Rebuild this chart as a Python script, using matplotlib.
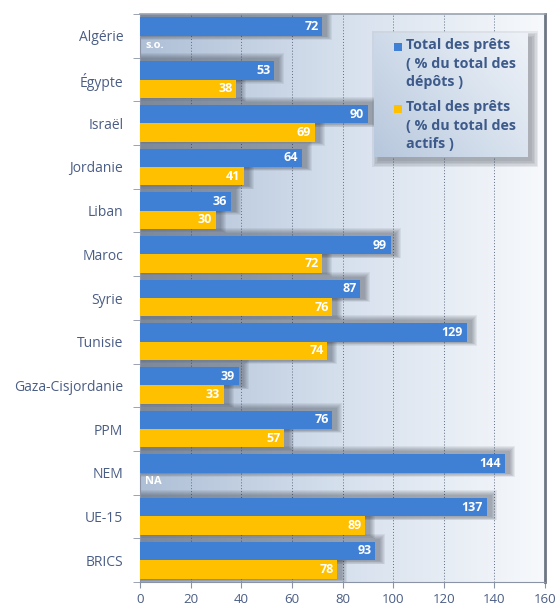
import numpy as np
import matplotlib.pyplot as plt
from matplotlib.patches import Rectangle
from matplotlib.colors import LinearSegmentedColormap

pays = ["Algérie", "Égypte", "Israël", "Jordanie", "Liban", "Maroc", "Syrie",
        "Tunisie", "Gaza-Cisjordanie", "PPM", "NEM", "UE-15", "BRICS"]
prets_depots = [72, 53, 90, 64, 36, 99, 87, 129, 39, 76, 144, 137, 93]
prets_actifs = [None, 38, 69, 41, 30, 72, 76, 74, 33, 57, None, 89, 78]
manquant = {"Algérie": "s.o.", "NEM": "NA"}
xticks = [0, 20, 40, 60, 80, 100, 120, 140, 160]
series = ["Total des prêts\n( % du total des\ndépôts )",
          "Total des prêts\n( % du total des\nactifs )"]

bleu = "#3f7fd4"
jaune = "#ffc000"
txt = "#4a5d85"
W, H = 558, 605

plt.rcParams["font.family"] = ["Open Sans", "DejaVu Sans"]

fig = plt.figure(figsize=(W / 100, H / 100), dpi=100)
ax = fig.add_axes([140 / W, 1 - 582 / H, 405 / W, 568 / H])

# fond dégradé bleu-gris -> blanc
grad = np.linspace(0, 1, 256)[None, :]
cmap = LinearSegmentedColormap.from_list("fond", ["#aebfd6", "#d6e0ed", "#f7f9fc"])
ax.imshow(grad, extent=[0, 160, 12.5, -0.5], aspect="auto", cmap=cmap, zorder=0)

h = 0.42
y = np.arange(len(pays))
px_x = 160 / 405
px_y = 13 / 568

def ombre(yc, w):
    # ombre floue : couches superposées de plus en plus larges
    for k in range(6):
        e = k * 1.0
        x1 = w + (5 + e) * px_x
        y0 = yc - h / 2 - (3 + e) * px_y
        y1 = yc + h / 2 + (1 + e * 0.6) * px_y
        ax.add_patch(Rectangle((0, y0), x1, y1 - y0,
                               facecolor="#2f3540", alpha=0.075, lw=0, zorder=1))

for i, p in enumerate(pays):
    ombre(y[i] - h / 2, prets_depots[i])
    if prets_actifs[i] is not None:
        ombre(y[i] + h / 2, prets_actifs[i])

ax.barh(y - h / 2, prets_depots, height=h, color=bleu, zorder=3)
ya = [y[i] + h / 2 for i in range(len(pays)) if prets_actifs[i] is not None]
va = [v for v in prets_actifs if v is not None]
ax.barh(ya, va, height=h, color=jaune, zorder=3)

for i, p in enumerate(pays):
    ax.text(prets_depots[i] - 1.5, y[i] - h / 2, str(prets_depots[i]), color="white",
            fontsize=9, fontweight="bold", ha="right", va="center", zorder=4)
    if prets_actifs[i] is not None:
        ax.text(prets_actifs[i] - 1.5, y[i] + h / 2, str(prets_actifs[i]), color="white",
                fontsize=9, fontweight="bold", ha="right", va="center", zorder=4)
    else:
        ax.text(2, y[i] + h / 2, manquant[p], color="white",
                fontsize=8, fontweight="bold", ha="left", va="center", zorder=4)

ax.set_xlim(0, 160)
ax.set_ylim(12.5, -0.5)
ax.set_xticks(xticks)
ax.set_xticklabels([str(t) for t in xticks], color=txt, fontsize=9.5)
ax.set_yticks(y)
ax.set_yticklabels(pays, color=txt, fontsize=10)
ax.set_yticks(np.arange(-0.5, 13, 1), minor=True)
ax.tick_params(axis="y", which="major", length=0, pad=12)
ax.tick_params(axis="y", which="minor", length=5, color="#8a94a6")
ax.tick_params(axis="x", length=4, color="#8a94a6", pad=4)

for t in xticks[1:]:
    ax.axvline(t, color="#5d6b80", lw=0.7, ls=(0, (1, 2)), zorder=0.5)

ax.spines["top"].set_color("#9aa3b0")
ax.spines["top"].set_linewidth(1.2)
ax.spines["right"].set_color("#6e7682")
ax.spines["right"].set_linewidth(2)
ax.spines["left"].set_color("#8a94a6")
ax.spines["bottom"].set_color("#8a94a6")

# légende dessinée à la main : boîte dégradée avec ombre
lx0, lx1, ly0, ly1 = 374, 528, 33, 157
for k in range(5):
    e = k * 1.5
    fig.add_artist(Rectangle(((lx0 + 4 - e) / W, 1 - (ly1 + 4 + e) / H),
                             (lx1 - lx0 + 2 * e) / W, (ly1 - ly0 + 2 * e) / H,
                             transform=fig.transFigure, facecolor="#3a404a",
                             alpha=0.09, lw=0, zorder=5))
lax = fig.add_axes([lx0 / W, 1 - ly1 / H, (lx1 - lx0) / W, (ly1 - ly0) / H], zorder=6)
gx, gy = np.meshgrid(np.linspace(0, 1, 64), np.linspace(0, 1, 64))
lcmap = LinearSegmentedColormap.from_list("leg", ["#b7c7dc", "#d4dfec", "#eef2f8"])
lax.imshow(0.6 * gx + 0.4 * gy, extent=[0, 1, 0, 1], origin="lower",
           aspect="auto", cmap=lcmap)
lax.set_xlim(0, 1)
lax.set_ylim(0, 1)
lax.axis("off")

couleurs = [bleu, jaune]
for j, (lab, c) in enumerate(zip(series, couleurs)):
    ytop = 38 + j * 62
    fig.text(406 / W, 1 - ytop / H, lab, color="#3d5a8a", fontsize=10.3,
             fontweight="bold", ha="left", va="top", linespacing=1.42, zorder=7)
    fig.add_artist(Rectangle((394 / W, 1 - (ytop + 13) / H), 8 / W, 8 / H,
                             transform=fig.transFigure, facecolor=c, lw=0, zorder=7))

fig.savefig("out.png", dpi=100)
